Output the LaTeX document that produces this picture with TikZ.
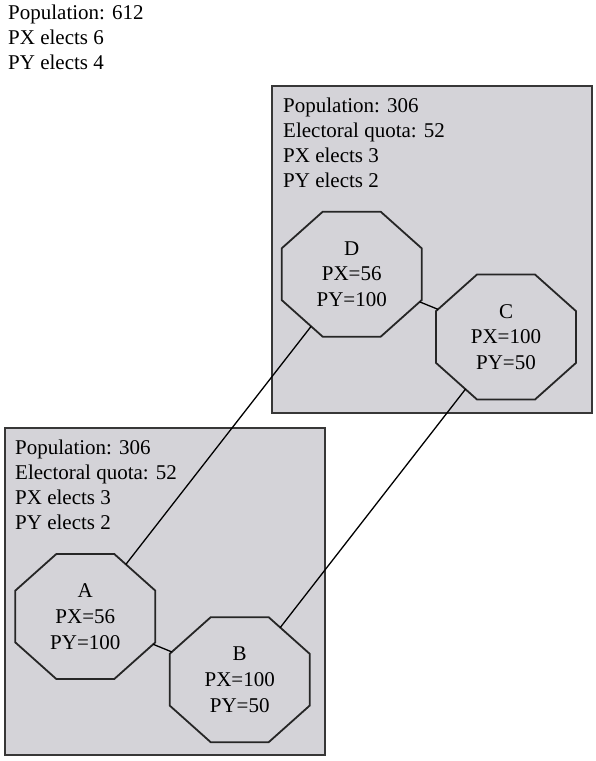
\documentclass[tikz,border=0pt]{standalone}
\usepackage{fontspec}
\setmainfont{Liberation Serif}
\usetikzlibrary{shapes.geometric}
\definecolor{panelgrey}{RGB}{212,211,216}
\definecolor{edgegrey}{RGB}{55,55,55}
\begin{document}
\begin{tikzpicture}[x=1pt,y=-1pt,
  every node/.style={font=\fontsize{21}{25}\selectfont},
  district/.style={draw=edgegrey, line width=2pt, fill=panelgrey,
    minimum width=320.5pt, minimum height=327pt, anchor=north west, inner sep=0pt},
  ward/.style={regular polygon, regular polygon sides=8, draw=black!85,
    line width=1.8pt, fill=panelgrey, minimum size=151.5pt, inner sep=0pt,
    outer sep=0pt, yscale=0.893},
  wardlabel/.style={align=center, inner sep=0pt, font=\fontsize{21}{25.8}\selectfont},
  info/.style={align=left, anchor=north west, inner sep=0pt},
  link/.style={line width=1.3pt, black}]
\useasboundingbox (0,0) rectangle (596,761);

% overall totals
\node[info] (total) at (8,5) {Population: 612\\PX elects 6\\PY elects 4};

% the two districts
\node[district] (north) at (270.5,85) {};
\node[district] (south) at (3.5,427) {};
\node[info] (northinfo) at (283,98)
  {Population: 306\\Electoral quota: 52\\PX elects 3\\PY elects 2};
\node[info] (southinfo) at (15,439.5)
  {Population: 306\\Electoral quota: 52\\PX elects 3\\PY elects 2};

% wards
\node[ward] (D) at (351.7,274.2) {};
\node[ward] (C) at (506,337) {};
\node[ward] (A) at (85.3,616.5) {};
\node[ward] (B) at (239.7,679.7) {};
\node[wardlabel] (Dl) at (D.center) {D\\PX=56\\PY=100};
\node[wardlabel] (Cl) at (C.center) {C\\PX=100\\PY=50};
\node[wardlabel] (Al) at (A.center) {A\\PX=56\\PY=100};
\node[wardlabel] (Bl) at (B.center) {B\\PX=100\\PY=50};

% adjacencies
\draw[link] (D) -- (C);
\draw[link] (A) -- (B);
\draw[link] (D) -- (A);
\draw[link] (C) -- (B);
\end{tikzpicture}
\end{document}
